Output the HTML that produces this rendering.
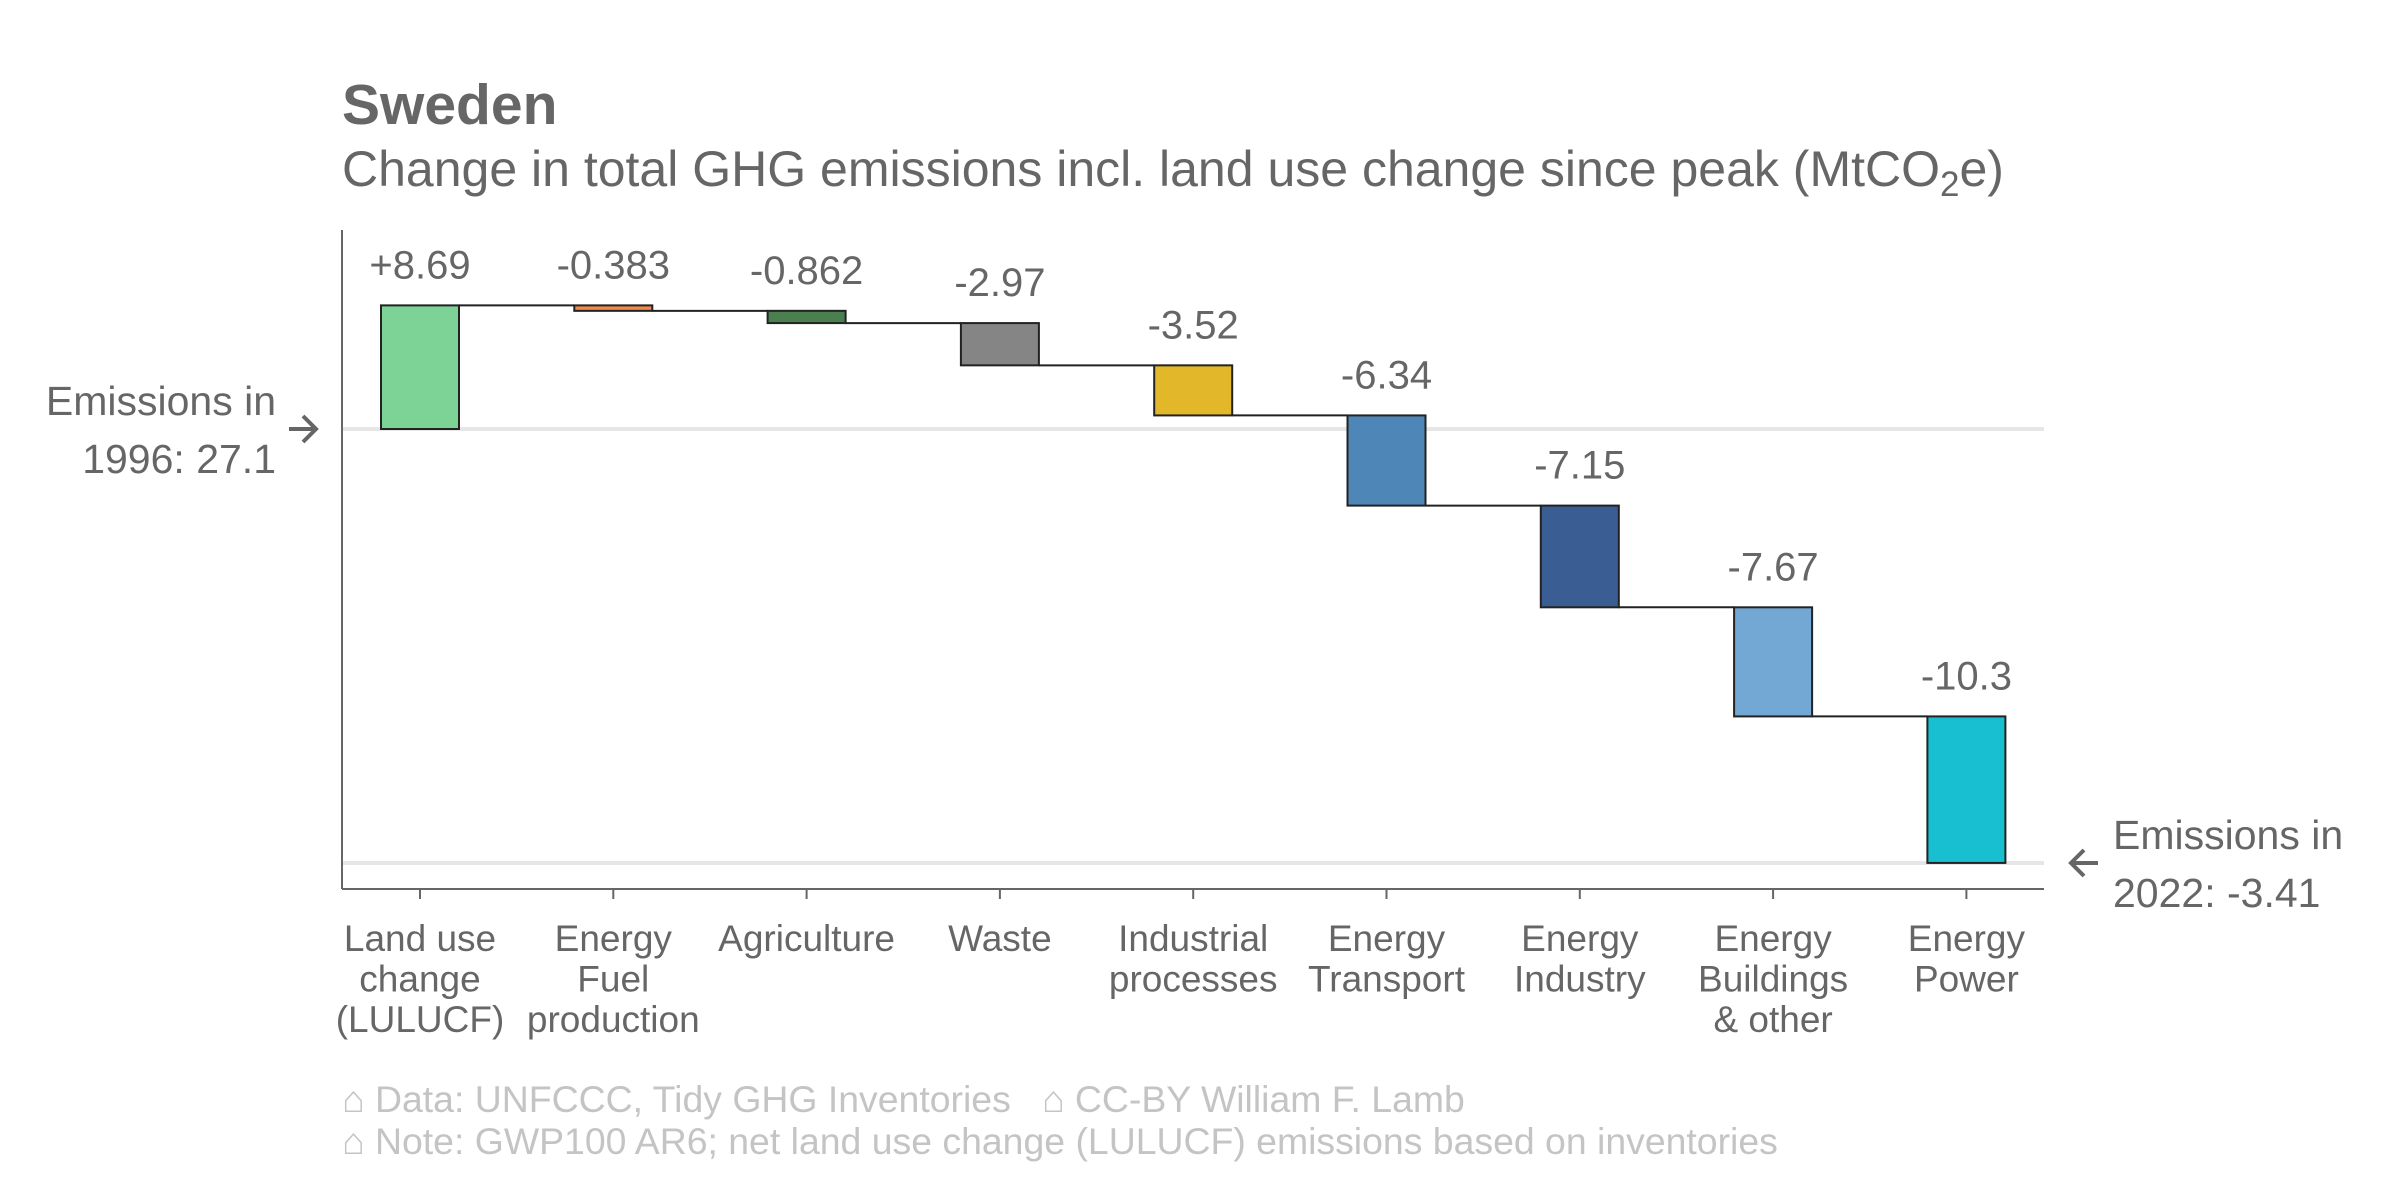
<!DOCTYPE html>
<html><head><meta charset="utf-8"><style>
html,body{margin:0;padding:0;background:#fff}
svg{display:block;font-family:"Liberation Sans",Arial,sans-serif}
</style></head><body>
<svg id="chart" width="2400" height="1200" viewBox="0 0 2400 1200">
<text x="342" y="124" font-size="57" font-weight="bold" fill="#666">Sweden</text>
<text x="342" y="186" font-size="50" fill="#666">Change in total GHG emissions incl. land use change since peak (MtCO<tspan font-size="35" dy="10">2</tspan><tspan dy="-10">e)</tspan></text>
<g id="plot"></g>
<text x="342" y="1112" font-size="37.4" fill="#c4c4c4" xml:space="preserve">⌂ Data: UNFCCC, Tidy GHG Inventories   ⌂ CC-BY William F. Lamb</text>
<text x="342" y="1154" font-size="37.4" fill="#c4c4c4">⌂ Note: GWP100 AR6; net land use change (LULUCF) emissions based on inventories</text>
</svg>
<script>
const categories = [["Land use","change","(LULUCF)"],["Energy","Fuel","production"],["Agriculture"],["Waste"],["Industrial","processes"],["Energy","Transport"],["Energy","Industry"],["Energy","Buildings","& other"],["Energy","Power"]];
const changes = [8.69,-0.383,-0.862,-2.97,-3.52,-6.34,-7.15,-7.67,-10.3];
const valueLabels = ["+8.69","-0.383","-0.862","-2.97","-3.52","-6.34","-7.15","-7.67","-10.3"];
const colors = ["#7dd396","#f08a4b","#4a7f50","#858585","#e2b72a","#4e86b8","#3a5e93","#74a8d4","#17bfd0"];
const startValue = 27.1;
const endValue = -3.41;
const startYear = "1996";
const endYear = "2022";

const NS="http://www.w3.org/2000/svg";
const g=document.getElementById('plot');
const X0=342,X1=2044,YT=230,YB=889;
const Y0=429,Y1=863;
const pxPer=(Y1-Y0)/(startValue-endValue);
function y(v){return Y0+(startValue-v)*pxPer;}
const step=193.3, first=420, bw=78;
function xc(i){return first+i*step;}
function el(tag,attrs){const e=document.createElementNS(NS,tag);for(const k in attrs)e.setAttribute(k,attrs[k]);g.appendChild(e);return e;}
function txt(x,yy,s,size,anchor,fill){const t=el('text',{x:x,y:yy,'font-size':size,'text-anchor':anchor,fill:fill||'#666'});t.textContent=s;return t;}

let e;
e=el('line',{x1:X0,y1:y(startValue),x2:X1,y2:y(startValue),stroke:'#e6e6e6','stroke-width':4});


e=el('line',{x1:X0,y1:y(endValue),x2:X1,y2:y(endValue),stroke:'#e6e6e6','stroke-width':4});


e=el('line',{x1:X0,y1:YT,x2:X0,y2:YB,stroke:'#666','stroke-width':2});


e=el('line',{x1:X0,y1:YB,x2:X1,y2:YB,stroke:'#666','stroke-width':2});



let level=startValue;
for(let i=0;i<changes.length;i++){
  const a=level,b=level+changes[i];
  const top=Math.min(y(a),y(b)),bot=Math.max(y(a),y(b));
  const r=el('rect',{x:xc(i)-bw/2,y:top,width:bw,height:Math.max(bot-top,1),fill:colors[i],stroke:'#222','stroke-width':2});
  
  
  if(i<changes.length-1){
    const c=el('line',{x1:xc(i)+bw/2,y1:y(b),x2:xc(i+1)-bw/2,y2:y(b),stroke:'#222','stroke-width':2});
    
    
  }
  const vl=txt(xc(i),top-27,valueLabels[i],40,'middle');
  
  
  const tk=el('line',{x1:xc(i),y1:YB,x2:xc(i),y2:YB+10,stroke:'#666','stroke-width':2});
  
  
  categories[i].forEach((s,j)=>{
    const t=txt(xc(i),951+j*40.5,s,37,'middle');
    
    
  });
  level=b;
}
let t=txt(276,415,'Emissions in',41,'end');


t=txt(276,473,startYear+': '+startValue,41,'end');


let ay=y(startValue);
e=el('path',{d:`M289 ${ay} H316 M303 ${ay-13} L316 ${ay} L303 ${ay+13}`,stroke:'#666','stroke-width':4,fill:'none'});


t=txt(2113,849,'Emissions in',41,'start');


t=txt(2113,907,endYear+': '+endValue,41,'start');


ay=y(endValue);
e=el('path',{d:`M2071 ${ay} H2098 M2084 ${ay-13} L2071 ${ay} L2084 ${ay+13}`,stroke:'#666','stroke-width':4,fill:'none'});


</script>
</body></html>
